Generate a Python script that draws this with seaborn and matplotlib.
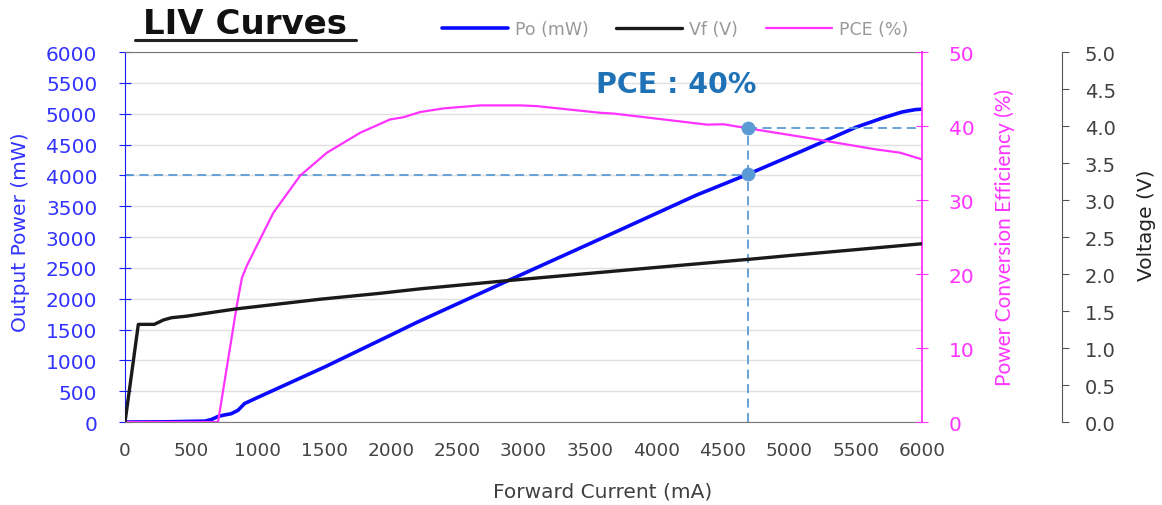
import numpy as np
import pandas as pd
import matplotlib.pyplot as plt
import seaborn as sns

# Output power (mW) vs forward current (mA)
po_current = [0, 300, 600, 650, 700, 750, 800, 850, 900, 1000, 1500, 2000, 2200, 2900,
              3700, 4300, 4690, 5100, 5500, 5700, 5850, 5950, 6000]
po_power = [0, 3, 15, 40, 90, 115, 135, 190, 300, 400, 890, 1410, 1620, 2310,
            3090, 3680, 4020, 4400, 4780, 4930, 5030, 5068, 5075]

# Forward voltage (V)
vf_current = [0, 100, 220, 290, 350, 460, 840, 1470, 1920, 2220, 2870, 3500, 4000,
              4700, 5000, 5500, 6000]
vf_voltage = [0, 1.32, 1.32, 1.38, 1.41, 1.43, 1.53, 1.66, 1.74, 1.80, 1.91, 2.01, 2.09,
              2.20, 2.25, 2.33, 2.41]

# Power conversion efficiency (%)
pce_current = [0, 700, 841, 880, 916, 991, 1117, 1318, 1519, 1770, 1995, 2096, 2221, 2400,
               2673, 2974, 3100, 3577, 3675, 4053, 4380, 4505, 4690, 5108, 5635, 5835, 6000]
pce_eff = [0, 0, 15.7, 19.5, 21.1, 23.8, 28.3, 33.3, 36.4, 39.1, 40.9, 41.2, 41.9, 42.4,
           42.8, 42.8, 42.7, 41.8, 41.7, 40.9, 40.2, 40.25, 39.7, 38.5, 36.9, 36.4, 35.5]

# highlighted operating point
marker_current = 4690
marker_po = 4020
marker_pce = 39.7

df_po = pd.DataFrame({'I': po_current, 'P': po_power})
df_vf = pd.DataFrame({'I': vf_current, 'V': vf_voltage})
df_pce = pd.DataFrame({'I': pce_current, 'E': pce_eff})

sns.set_style('white')
plt.rcParams['font.family'] = ['DejaVu Sans']

fig = plt.figure(figsize=(11.62, 5.06), dpi=100)
ax = fig.add_axes([0.1076, 0.164, 0.686, 0.731])
ax2 = ax.twinx()
ax3 = ax.twinx()
ax3.spines['right'].set_position(('axes', 1.176))

blue = '#1a1aff'
magenta = '#ff33ff'
dash_c = '#5b9bd5'

sns.lineplot(data=df_po, x='I', y='P', ax=ax, color='#0a0aff', lw=2.6, label='Po (mW)', legend=False)
sns.lineplot(data=df_vf, x='I', y='V', ax=ax3, color='#1a1a1a', lw=2.4, label='Vf (V)', legend=False)
sns.lineplot(data=df_pce, x='I', y='E', ax=ax2, color=magenta, lw=1.6, label='PCE (%)', legend=False)

# dashed guide lines and marker points
dash_kw = dict(ls=(0, (5, 3)), color=dash_c, lw=1.3)
ax.plot([0, marker_current], [4000, 4000], zorder=1, **dash_kw)
ax.plot([marker_current, marker_current], [0, marker_po], zorder=1, **dash_kw)
ax2.plot([marker_current, marker_current], [marker_po / 120, marker_pce], **dash_kw)
ax2.plot([marker_current, 6000], [marker_pce, marker_pce], **dash_kw)
ax.scatter([marker_current], [marker_po], s=80, color=dash_c, zorder=5)
ax2.scatter([marker_current], [marker_pce], s=80, color=dash_c, zorder=5)

ax.set_xlim(0, 6000)
ax.set_ylim(0, 6000)
ax2.set_ylim(0, 50)
ax3.set_ylim(0, 5)
ax.set_xticks(np.arange(0, 6001, 500))
ax.set_yticks(np.arange(0, 6001, 500))
ax2.set_yticks(np.arange(0, 51, 10))
ax3.set_yticks(np.arange(0, 5.01, 0.5))
ax3.set_yticklabels([f'{v:.1f}' for v in np.arange(0, 5.01, 0.5)])

ax.grid(axis='y', color='#e0e0e0', lw=1)
ax.set_axisbelow(True)

for s in ['left', 'top', 'bottom']:
    ax.spines[s].set_visible(True)
ax.spines['left'].set_color(blue)
ax.spines['top'].set_color('#777777')
ax.spines['bottom'].set_color('#777777')
ax.spines['right'].set_visible(False)
ax2.spines['right'].set_color(magenta)
ax2.spines['right'].set_linewidth(1.3)
for s in ['left', 'top', 'bottom']:
    ax2.spines[s].set_visible(False)
    ax3.spines[s].set_visible(False)
ax3.spines['right'].set_color('#555555')

ax.tick_params(axis='y', colors=blue, direction='inout', length=8, pad=16,
               labelsize=14.5, labelcolor='#3333ff')
ax.tick_params(axis='x', colors='#555555', direction='out', length=5, pad=9,
               labelsize=13.3, labelcolor='#444444')
ax2.tick_params(axis='y', colors=magenta, direction='inout', length=8, pad=15, labelsize=14.5)
ax3.tick_params(axis='y', colors='#555555', direction='out', length=5, pad=11,
                labelsize=14, labelcolor='#404040')

ax.set_xlabel('')
ax.set_ylabel('')
ax2.set_ylabel('')
ax3.set_ylabel('')
fig.text(0.519, 0.027, 'Forward Current (mA)', fontsize=14.5, color='#404040', ha='center', va='center')
fig.text(0.018, 0.542, 'Output Power (mW)', fontsize=14.5, color='#3333ff', rotation=90,
         ha='center', va='center')
fig.text(0.865, 0.53, 'Power Conversion Efficiency (%)', fontsize=15, color=magenta, rotation=90,
         ha='center', va='center', family=['Lato', 'DejaVu Sans'])
fig.text(0.987, 0.555, 'Voltage (V)', fontsize=14.5, color='#222222', rotation=90,
         ha='center', va='center')

fig.text(0.211, 0.952, 'LIV Curves', fontsize=24.5, fontweight='bold',
         ha='center', va='center', color='#111111')
fig.add_artist(plt.Line2D([0.116, 0.306], [0.918, 0.918], color='#222222', lw=2.2))

ax.text(4149, 5478, 'PCE : 40%', fontsize=20.5, fontweight='bold', color='#1f72b5',
        ha='center', va='center')

handles = ax.get_lines()[:1] + ax3.get_lines()[:1] + ax2.get_lines()[:1]
fig.legend(handles, ['Po (mW)', 'Vf (V)', 'PCE (%)'], loc='center', bbox_to_anchor=(0.581, 0.94),
           ncol=3, frameon=False, labelcolor='#999999', handlelength=3.8,
           columnspacing=1.6, handletextpad=0.4, prop={'size': 12.5})

fig.savefig('out.png', dpi=100)
